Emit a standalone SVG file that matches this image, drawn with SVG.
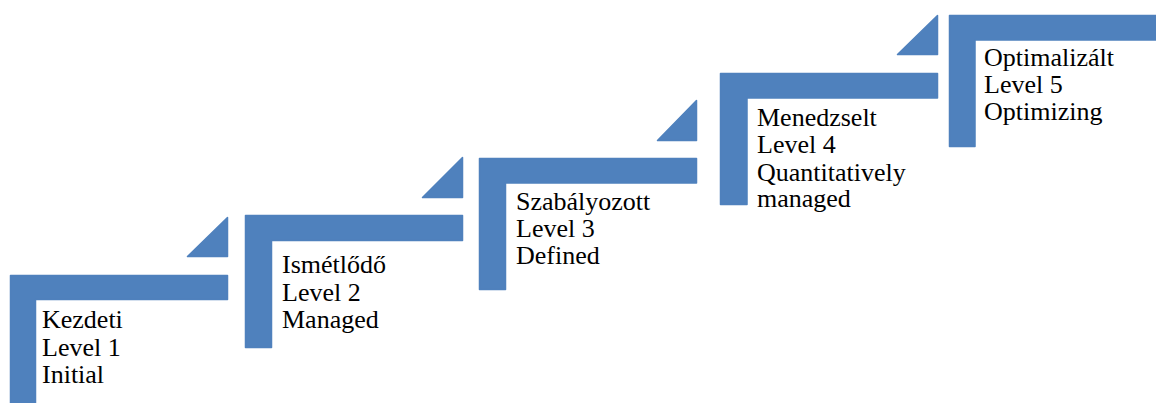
<svg xmlns="http://www.w3.org/2000/svg" width="1156" height="403" viewBox="0 0 1156 403">
<style>
.st{fill:#4F81BD;stroke:#4F81BD;stroke-width:1.5;stroke-linejoin:round}
.tx{font-family:'Liberation Serif','Times New Roman',serif;font-size:26px;fill:#000}
</style>
<rect width="1156" height="403" fill="#fff"/>
<g id="step1">
<path class="st" d="M10.5,275.5 H227.5 V299.5 H35.5 V410 H10.5 Z"/>
<path class="st" d="M187.5,256.5 H227.5 V217.5 Z"/>
<text class="tx" x="42" y="328">Kezdeti<tspan x="42" y="355.5">Level 1</tspan><tspan x="42" y="383">Initial</tspan></text>
</g>
<g id="step2">
<path class="st" d="M245.5,215.5 H462.5 V240.5 H271.5 V347.5 H245.5 Z"/>
<path class="st" d="M422.5,197.5 H462.5 V157.5 Z"/>
<text class="tx" x="282" y="273">Ismétlődő<tspan x="282" y="300.5">Level 2</tspan><tspan x="282" y="328">Managed</tspan></text>
</g>
<g id="step3">
<path class="st" d="M479.5,158.5 H696.5 V183 H505.5 V289.5 H479.5 Z"/>
<path class="st" d="M657.5,140.5 H696.5 V100.5 Z"/>
<text class="tx" x="516" y="210">Szabályozott<tspan x="516" y="237">Level 3</tspan><tspan x="516" y="264">Defined</tspan></text>
</g>
<g id="step4">
<path class="st" d="M720.5,73.5 H937.5 V98 H747 V204.5 H720.5 Z"/>
<path class="st" d="M897.5,54.5 H937.5 V15.5 Z"/>
<text class="tx" x="757" y="126">Menedzselt<tspan x="757" y="153">Level 4</tspan><tspan x="757" y="180.5">Quantitatively</tspan><tspan x="757" y="207">managed</tspan></text>
</g>
<g id="step5">
<path class="st" d="M949.5,15.5 H1160 V40 H975 V146.5 H949.5 Z"/>
<text class="tx" x="984" y="66">Optimalizált<tspan x="984" y="93">Level 5</tspan><tspan x="984" y="120">Optimizing</tspan></text>
</g>
<g id="connectors"/>
</svg>
